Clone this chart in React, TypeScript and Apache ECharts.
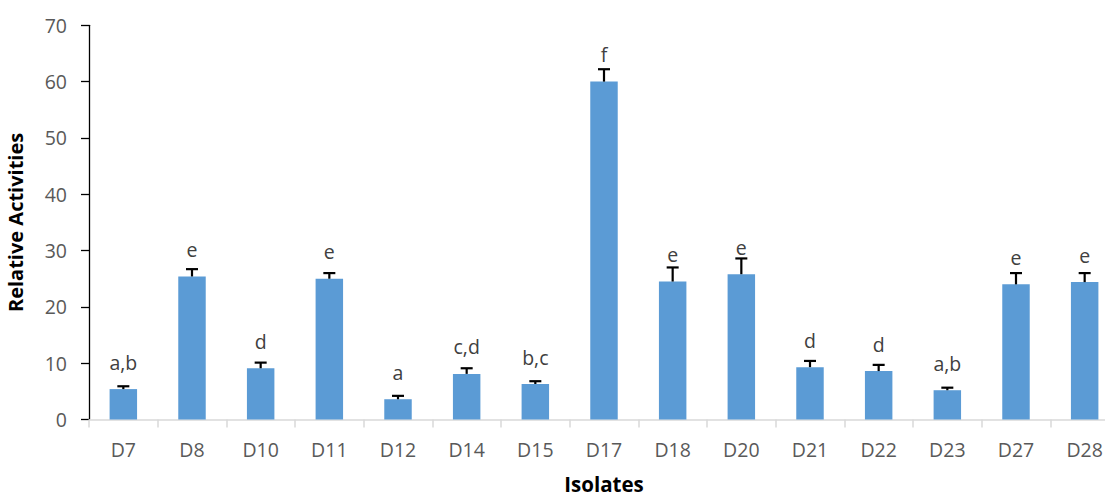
import React, { useEffect, useRef } from "react";
import * as echarts from "echarts";

const categories = ["D7", "D8", "D10", "D11", "D12", "D14", "D15", "D17", "D18", "D20", "D21", "D22", "D23", "D27", "D28"];
const values = [5.4, 25.4, 9.1, 25.0, 3.6, 8.1, 6.3, 60.0, 24.5, 25.8, 9.3, 8.6, 5.2, 24.0, 24.4];
const errors = [0.5, 1.3, 1.0, 1.0, 0.6, 1.0, 0.5, 2.2, 2.5, 2.8, 1.1, 1.1, 0.45, 2.0, 1.6];
const letters = ["a,b", "e", "d", "e", "a", "c,d", "b,c", "f", "e", "e", "d", "d", "a,b", "e", "e"];
const yTicks = [0, 10, 20, 30, 40, 50, 60, 70];

const FONT = "'Open Sans', Lato, sans-serif";

export default function App() {
  const ref = useRef<HTMLDivElement>(null);
  useEffect(() => {
    if (!ref.current) return;
    const chart = echarts.init(ref.current, null, { renderer: "svg" });
    const errData = categories.map((c, i) => [i, values[i], values[i] + errors[i], letters[i]]);
    chart.setOption({
      animation: false,
      backgroundColor: "#ffffff",
      grid: { left: 89, top: 25.3, bottom: 77.5, width: 1030, containLabel: false, outerBoundsMode: "none" },
      xAxis: {
        type: "category",
        data: categories,
        name: "Isolates",
        nameLocation: "middle",
        nameGap: 54,
        nameTextStyle: { fontFamily: FONT, fontWeight: "bold", fontSize: 20.5, color: "#000" },
        axisLine: { lineStyle: { color: "#d9d9d9", width: 1.5 } },
        axisTick: { show: true, alignWithLabel: false, length: 8, lineStyle: { color: "#d9d9d9", width: 1.5 } },
        axisLabel: { fontFamily: FONT, fontSize: 19.5, color: "#595959", margin: 20 },
      },
      yAxis: {
        type: "value",
        min: yTicks[0],
        max: yTicks[yTicks.length - 1],
        interval: 10,
        name: "Relative Activities",
        nameLocation: "middle",
        nameGap: 64,
        nameTextStyle: { fontFamily: FONT, fontWeight: "bold", fontSize: 20, color: "#000" },
        axisLine: { show: true, lineStyle: { color: "#000", width: 1.3 } },
        axisTick: { show: true, inside: false, length: 8, lineStyle: { color: "#000", width: 1.3 } },
        axisLabel: { fontFamily: FONT, fontSize: 19.5, color: "#595959", margin: 22 },
        splitLine: { show: false },
      },
      series: [
        {
          type: "bar",
          data: values,
          barWidth: "40%",
          itemStyle: { color: "#5b9bd5" },
          z: 2,
        },
        {
          type: "custom",
          data: errData,
          z: 3,
          renderItem: (params: any, api: any) => {
            const i = api.value(0);
            const base = api.coord([i, api.value(1)]);
            const top = api.coord([i, api.value(2)]);
            const idx = params.dataIndex;
            const half = 6;
            return {
              type: "group",
              children: [
                { type: "line", shape: { x1: base[0], y1: base[1], x2: top[0], y2: top[1] }, style: { stroke: "#000", lineWidth: 2.2 } },
                { type: "line", shape: { x1: top[0] - half, y1: top[1], x2: top[0] + half, y2: top[1] }, style: { stroke: "#000", lineWidth: 2.2 } },
                {
                  type: "text",
                  x: base[0],
                  y: base[1] - 17,
                  z2: 10,
                  style: {
                    text: letters[idx],
                    fontFamily: FONT,
                    fontSize: 19.5,
                    fill: "#404040",
                    align: "center",
                    verticalAlign: "bottom",
                  },
                },
              ],
            };
          },
        },
      ],
    });
    return () => chart.dispose();
  }, []);
  return (
    <div style={{ position: "fixed", left: 0, top: 0, width: 1105, height: 497, overflow: "hidden", background: "#fff" }}>
      <div ref={ref} style={{ width: 1105, height: 497 }} />
    </div>
  );
}
